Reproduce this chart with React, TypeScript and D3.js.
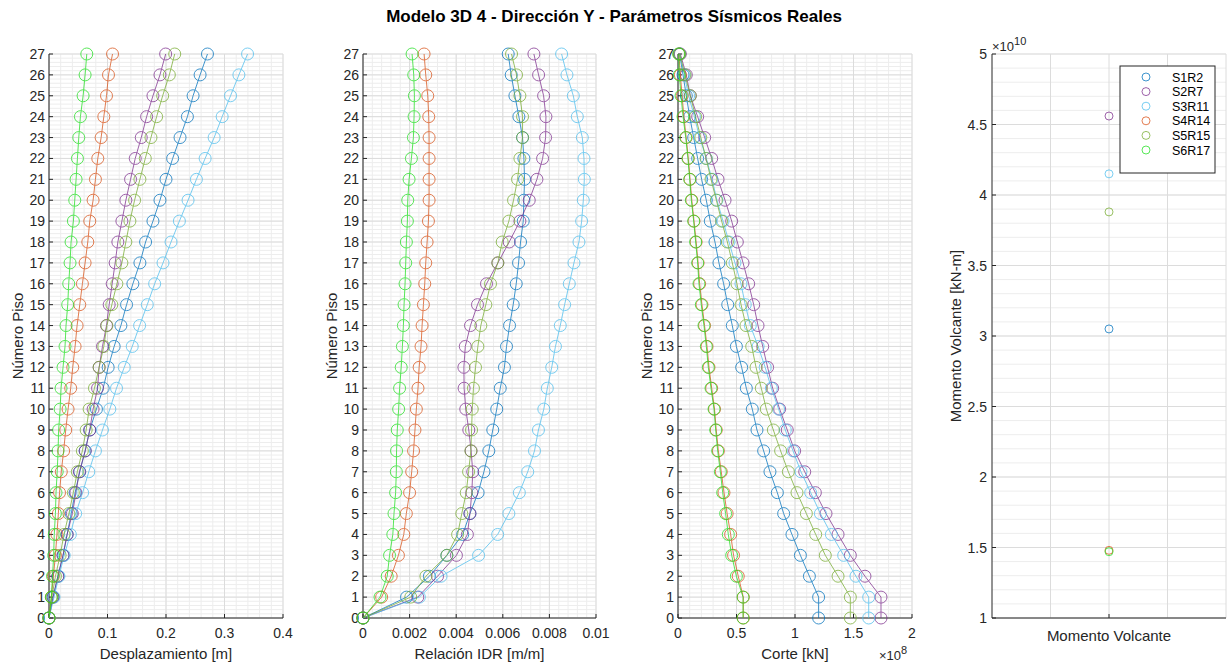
import React from 'react';
import * as d3 from 'd3';

const floors = d3.range(0, 28);
const seriesNames = ['S1R2', 'S2R7', 'S3R11', 'S4R14', 'S5R15', 'S6R17'];
const seriesColors = ['#0072BD', '#7E2F8E', '#4DBEEE', '#D95319', '#77AC30', '#22E022'];

// Desplazamiento [m], floors 0..27
const despS1R2 = [0, 0.0069, 0.0154, 0.024, 0.031, 0.038, 0.0446, 0.0526, 0.0617, 0.0697, 0.0811, 0.0926, 0.1011, 0.1114, 0.1229, 0.1326, 0.1434, 0.1554, 0.1651, 0.1777, 0.1897, 0.2, 0.2114, 0.224, 0.2366, 0.2463, 0.2583, 0.2709];
const despS2R7 = [0, 0.007, 0.015, 0.024, 0.031, 0.04, 0.046, 0.052, 0.062, 0.0697, 0.0754, 0.083, 0.0857, 0.0914, 0.0983, 0.1029, 0.108, 0.1131, 0.1177, 0.1246, 0.1314, 0.1394, 0.1474, 0.1577, 0.1669, 0.1777, 0.1897, 0.1994];
const despS3R11 = [0, 0.0086, 0.017, 0.026, 0.0365, 0.0456, 0.0575, 0.068, 0.0794, 0.0914, 0.104, 0.1154, 0.1286, 0.1423, 0.1549, 0.168, 0.1806, 0.1949, 0.2086, 0.2229, 0.2377, 0.252, 0.2669, 0.2823, 0.296, 0.3103, 0.3246, 0.3394];
const despS4R14 = [0, 0.004, 0.0075, 0.011, 0.0135, 0.016, 0.018, 0.021, 0.025, 0.0286, 0.0326, 0.0371, 0.0406, 0.0446, 0.048, 0.0526, 0.0571, 0.0617, 0.0663, 0.0697, 0.0754, 0.0794, 0.0834, 0.0891, 0.0937, 0.0983, 0.1017, 0.1086];
const despS5R15 = [0, 0.005, 0.011, 0.019, 0.0256, 0.034, 0.0416, 0.0484, 0.057, 0.0635, 0.0686, 0.0777, 0.0857, 0.0937, 0.099, 0.1074, 0.116, 0.1246, 0.1314, 0.1383, 0.1463, 0.1554, 0.1646, 0.1743, 0.184, 0.1943, 0.2057, 0.2149];
const despS6R17 = [0, 0.004, 0.006, 0.008, 0.009, 0.011, 0.012, 0.014, 0.0155, 0.0165, 0.019, 0.0206, 0.024, 0.0274, 0.0291, 0.032, 0.0337, 0.036, 0.0377, 0.0417, 0.044, 0.0463, 0.0486, 0.0509, 0.0537, 0.0583, 0.0617, 0.0646];

// Relación IDR [m/m] (x 0.001), floors 0..27
const idrS1R2 = [0, 1.87, 2.85, 3.6, 4.28, 4.59, 4.94, 5.19, 5.4, 5.57, 5.74, 5.89, 6.07, 6.16, 6.29, 6.447, 6.576, 6.676, 6.762, 6.877, 6.905, 6.934, 6.905, 6.848, 6.69, 6.519, 6.361, 6.232];
const idrS2R7 = [0, 2.35, 3.2, 4.01, 4.48, 4.59, 4.67, 4.71, 4.64, 4.54, 4.41, 4.34, 4.33, 4.39, 4.613, 4.914, 5.301, 5.788, 6.275, 6.734, 7.135, 7.464, 7.708, 7.837, 7.851, 7.751, 7.536, 7.335];
const idrS3R11 = [0, 2.42, 3.35, 4.96, 5.78, 6.26, 6.71, 7.07, 7.36, 7.53, 7.76, 7.91, 8.1, 8.26, 8.467, 8.653, 8.854, 9.054, 9.269, 9.384, 9.456, 9.499, 9.484, 9.413, 9.198, 9.026, 8.754, 8.524];
const idrS4R14 = [0, 0.8, 1.21, 1.52, 1.75, 1.86, 2.0, 2.09, 2.17, 2.23, 2.29, 2.36, 2.41, 2.49, 2.536, 2.593, 2.65, 2.693, 2.751, 2.808, 2.837, 2.837, 2.837, 2.837, 2.822, 2.779, 2.693, 2.622];
const idrS5R15 = [0, 2.05, 2.7, 3.6, 4.06, 4.24, 4.43, 4.53, 4.63, 4.66, 4.69, 4.74, 4.83, 4.93, 5.057, 5.272, 5.473, 5.788, 5.974, 6.261, 6.461, 6.633, 6.734, 6.848, 6.848, 6.734, 6.59, 6.375];
const idrS6R17 = [0, 0.73, 1.04, 1.14, 1.28, 1.33, 1.4, 1.43, 1.44, 1.47, 1.53, 1.57, 1.64, 1.69, 1.733, 1.762, 1.805, 1.834, 1.862, 1.905, 1.92, 1.977, 2.077, 2.163, 2.192, 2.206, 2.178, 2.106];

// Corte [kN] (x 1e8), floors 0..27
const corteS1R2 = [1.202, 1.202, 1.123, 1.046, 0.974, 0.903, 0.849, 0.786, 0.732, 0.675, 0.635, 0.584, 0.544, 0.499, 0.464, 0.425, 0.39, 0.35, 0.316, 0.276, 0.242, 0.202, 0.168, 0.134, 0.1, 0.071, 0.043, 0.014];
const corteS2R7 = [1.735, 1.735, 1.598, 1.473, 1.368, 1.265, 1.174, 1.083, 0.997, 0.934, 0.869, 0.809, 0.766, 0.724, 0.684, 0.647, 0.604, 0.556, 0.507, 0.459, 0.402, 0.342, 0.288, 0.228, 0.168, 0.105, 0.071, 0.02];
const corteS3R11 = [1.63, 1.63, 1.521, 1.416, 1.311, 1.217, 1.134, 1.051, 0.983, 0.917, 0.86, 0.798, 0.745, 0.685, 0.618, 0.575, 0.538, 0.487, 0.436, 0.385, 0.333, 0.291, 0.242, 0.185, 0.14, 0.091, 0.054, 0.014];
const corteS4R14 = [0.558, 0.558, 0.515, 0.475, 0.45, 0.42, 0.393, 0.37, 0.345, 0.327, 0.312, 0.288, 0.265, 0.248, 0.227, 0.205, 0.185, 0.172, 0.155, 0.137, 0.118, 0.103, 0.088, 0.07, 0.05, 0.035, 0.02, 0.008];
const corteS5R15 = [1.473, 1.473, 1.368, 1.259, 1.177, 1.097, 1.017, 0.943, 0.877, 0.815, 0.755, 0.712, 0.667, 0.63, 0.581, 0.539, 0.504, 0.464, 0.422, 0.373, 0.328, 0.282, 0.24, 0.195, 0.15, 0.105, 0.06, 0.015];
const corteS6R17 = [0.556, 0.556, 0.499, 0.459, 0.43, 0.407, 0.382, 0.362, 0.339, 0.322, 0.308, 0.282, 0.259, 0.242, 0.222, 0.199, 0.179, 0.168, 0.151, 0.134, 0.114, 0.1, 0.085, 0.066, 0.043, 0.026, 0.011, 0.006];

// Momento Volcante [kN-m] (x 1e10)
const momentoVolcante = [3.05, 4.56, 4.15, 1.48, 3.88, 1.47];

const floorTicks = d3.range(0, 28);
const despTicks = [0, 0.1, 0.2, 0.3, 0.4];
const idrTicks = [0, 0.002, 0.004, 0.006, 0.008, 0.01];
const corteTicks = [0, 0.5, 1, 1.5, 2];
const momTicks = [1, 1.5, 2, 2.5, 3, 3.5, 4, 4.5, 5];

const TOP = 54;
const BOTTOM = 618;
const FONT = 'Liberation Sans, Arial, Helvetica, sans-serif';
const AXIS = '#262626';
const GRID_MAJOR = '#dcdcdc';
const GRID_MINOR = '#ededed';
const TXT = '#262626';
const TICK_FS = 14;
const LABEL_FS = 15;

type PanelProps = {
  left: number;
  right: number;
  domain: [number, number];
  ticks: number[];
  minorStep: number;
  fmt: (v: number) => string;
  data: number[][];
  xLabel: string;
  scaleMult?: number;
  exponent?: string;
};

function Panel({ left, right, domain, ticks, minorStep, fmt, data, xLabel, scaleMult = 1, exponent }: PanelProps) {
  const x = d3.scaleLinear().domain(domain).range([left, right]);
  const y = d3.scaleLinear().domain([0, 27]).range([BOTTOM, TOP]);
  const nMinorX = Math.round((domain[1] - domain[0]) / minorStep);
  const minorX = d3.range(0, nMinorX + 1).map((i) => domain[0] + i * minorStep);
  const minorY = d3.range(0, 27 * 5 + 1).map((i) => i / 5);
  const line = d3
    .line<number>()
    .x((d) => x(d * scaleMult))
    .y((_, i) => y(floors[i]));
  return (
    <g>
      {minorX.map((v, i) => (
        <line key={'mx' + i} x1={x(v)} x2={x(v)} y1={TOP} y2={BOTTOM} stroke={GRID_MINOR} strokeWidth={1} />
      ))}
      {minorY.map((v, i) => (
        <line key={'my' + i} x1={left} x2={right} y1={y(v)} y2={y(v)} stroke={GRID_MINOR} strokeWidth={1} />
      ))}
      {ticks.map((v, i) => (
        <line key={'gx' + i} x1={x(v)} x2={x(v)} y1={TOP} y2={BOTTOM} stroke={GRID_MAJOR} strokeWidth={1} />
      ))}
      {floorTicks.map((v, i) => (
        <line key={'gy' + i} x1={left} x2={right} y1={y(v)} y2={y(v)} stroke={GRID_MAJOR} strokeWidth={1} />
      ))}
      <line x1={left} x2={left} y1={TOP} y2={BOTTOM} stroke={AXIS} strokeWidth={1} />
      <line x1={left} x2={right} y1={BOTTOM} y2={BOTTOM} stroke={AXIS} strokeWidth={1} />
      {ticks.map((v, i) => (
        <g key={'tx' + i}>
          <line x1={x(v)} x2={x(v)} y1={BOTTOM} y2={BOTTOM - 4} stroke={AXIS} />
          <text x={x(v)} y={BOTTOM + 20} textAnchor="middle" fontSize={TICK_FS} fill={TXT} fontFamily={FONT}>
            {fmt(v)}
          </text>
        </g>
      ))}
      {floorTicks.map((v, i) => (
        <g key={'ty' + i}>
          <line x1={left} x2={left + 4} y1={y(v)} y2={y(v)} stroke={AXIS} />
          <text x={left - 4} y={y(v) + 5} textAnchor="end" fontSize={TICK_FS} fill={TXT} fontFamily={FONT}>
            {String(v)}
          </text>
        </g>
      ))}
      <text x={(left + right) / 2} y={BOTTOM + 41} textAnchor="middle" fontSize={LABEL_FS} fill={TXT} fontFamily={FONT}>
        {xLabel}
      </text>
      {exponent && (
        <text x={right - 33} y={BOTTOM + 42} fontSize={13} fill={TXT} fontFamily={FONT}>
          ×10<tspan dy={-6} fontSize={11}>{exponent}</tspan>
        </text>
      )}
      <text
        transform={`translate(${left - 26},${(TOP + BOTTOM) / 2}) rotate(-90)`}
        textAnchor="middle"
        fontSize={LABEL_FS}
        fill={TXT}
        fontFamily={FONT}
      >
        Número Piso
      </text>
      {data.map((s, k) => (
        <g key={'s' + k} stroke={seriesColors[k]} fill="none" opacity={0.75}>
          <path d={line(s) || ''} strokeWidth={1} />
          {s.map((v, i) => (
            <circle key={i} cx={x(v * scaleMult)} cy={y(floors[i])} r={6} strokeWidth={1} />
          ))}
        </g>
      ))}
    </g>
  );
}

function MomentPanel() {
  const left = 992;
  const right = 1226;
  const x = d3.scaleLinear().domain([0, 2]).range([left, right]);
  const y = d3.scaleLinear().domain([1, 5]).range([BOTTOM, TOP]);
  const minorY = d3.range(0, 41).map((i) => 1 + i * 0.1);
  const xGrid = [0.5, 1, 1.5, 2];
  return (
    <g>
      {minorY.map((v, i) => (
        <line key={'my' + i} x1={left} x2={right} y1={y(v)} y2={y(v)} stroke={GRID_MINOR} />
      ))}
      {momTicks.map((v, i) => (
        <line key={'gy' + i} x1={left} x2={right} y1={y(v)} y2={y(v)} stroke={GRID_MAJOR} />
      ))}
      {xGrid.map((v, i) => (
        <line key={'gx' + i} x1={x(v)} x2={x(v)} y1={TOP} y2={BOTTOM} stroke={GRID_MAJOR} />
      ))}
      <line x1={left} x2={left} y1={TOP} y2={BOTTOM} stroke={AXIS} />
      <line x1={left} x2={right} y1={BOTTOM} y2={BOTTOM} stroke={AXIS} />
      {momTicks.map((v, i) => (
        <g key={'ty' + i}>
          <line x1={left} x2={left + 4} y1={y(v)} y2={y(v)} stroke={AXIS} />
          <text x={left - 5} y={y(v) + 5} textAnchor="end" fontSize={TICK_FS} fill={TXT} fontFamily={FONT}>
            {String(v)}
          </text>
        </g>
      ))}
      <line x1={x(1)} x2={x(1)} y1={BOTTOM} y2={BOTTOM - 4} stroke={AXIS} />
      <text x={x(1)} y={BOTTOM + 23} textAnchor="middle" fontSize={LABEL_FS} fill={TXT} fontFamily={FONT}>
        Momento Volcante
      </text>
      <text x={left} y={TOP - 3} fontSize={13} fill={TXT} fontFamily={FONT}>
        ×10<tspan dy={-6} fontSize={11}>10</tspan>
      </text>
      <text
        transform={`translate(${left - 31},${(TOP + BOTTOM) / 2}) rotate(-90)`}
        textAnchor="middle"
        fontSize={LABEL_FS}
        fill={TXT}
        fontFamily={FONT}
      >
        Momento Volcante [kN-m]
      </text>
      {momentoVolcante.map((v, k) => (
        <circle key={k} cx={x(1)} cy={y(v)} r={4} fill="none" stroke={seriesColors[k]} opacity={0.75} />
      ))}
      <g>
        <rect x={1120} y={66} width={95} height={107} fill="#fff" stroke={AXIS} strokeWidth={1} />
        {seriesNames.map((n, k) => (
          <g key={n}>
            <circle cx={1146} cy={77 + k * 14.6} r={4} fill="none" stroke={seriesColors[k]} opacity={0.75} />
            <text x={1172} y={77 + k * 14.6 + 4.5} fontSize={12.5} fill="#000" fontFamily={FONT}>
              {n}
            </text>
          </g>
        ))}
      </g>
    </g>
  );
}

export default function App() {
  return (
    <div style={{ position: 'absolute', left: 0, top: 0 }}>
      <svg width={1228} height={667} style={{ display: 'block', background: '#fff' }}>
        <rect x={0} y={0} width={1228} height={667} fill="#fff" />
        <text x={614} y={22} textAnchor="middle" fontSize={17} fontWeight="bold" fill="#000" fontFamily={FONT}>
          Modelo 3D 4 - Dirección Y - Parámetros Sísmicos Reales
        </text>
        <Panel
          left={49}
          right={283}
          domain={[0, 0.4]}
          ticks={despTicks}
          minorStep={0.02}
          fmt={(v) => String(+v.toFixed(2))}
          data={[despS1R2, despS2R7, despS3R11, despS4R14, despS5R15, despS6R17]}
          xLabel="Desplazamiento [m]"
        />
        <Panel
          left={363}
          right={596}
          domain={[0, 0.01]}
          ticks={idrTicks}
          minorStep={0.0004}
          fmt={(v) => String(+v.toFixed(3))}
          data={[idrS1R2, idrS2R7, idrS3R11, idrS4R14, idrS5R15, idrS6R17]}
          scaleMult={0.001}
          xLabel="Relación IDR [m/m]"
        />
        <Panel
          left={678}
          right={912}
          domain={[0, 2]}
          ticks={corteTicks}
          minorStep={0.1}
          fmt={(v) => String(v)}
          data={[corteS1R2, corteS2R7, corteS3R11, corteS4R14, corteS5R15, corteS6R17]}
          xLabel="Corte [kN]"
          exponent="8"
        />
        <MomentPanel />
      </svg>
    </div>
  );
}
